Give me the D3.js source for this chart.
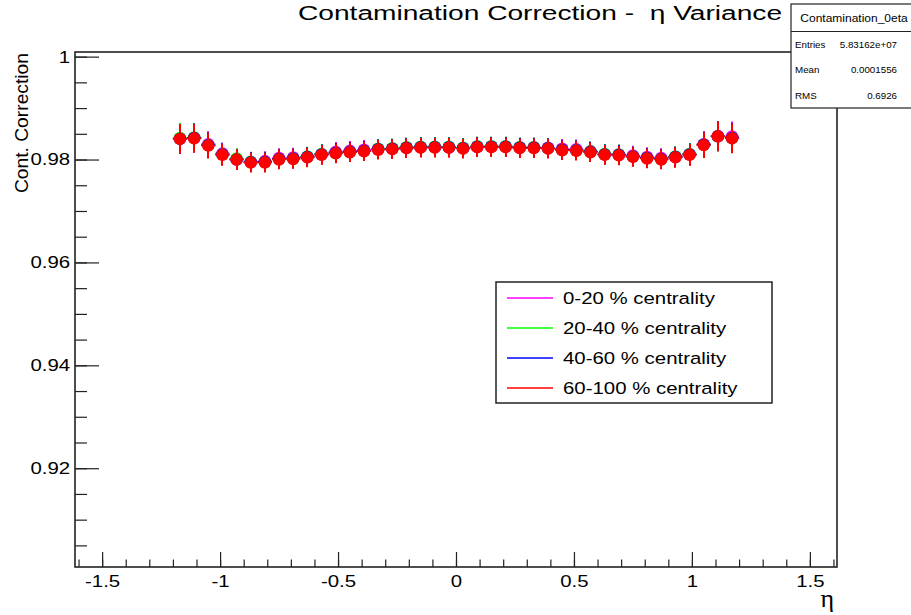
<!DOCTYPE html>
<html>
<head>
<meta charset="utf-8">
<script src="https://cdn.jsdelivr.net/npm/d3@7"></script>
<style>
  html, body { margin: 0; padding: 0; background: #fff; }
  svg { display: block; font-family: "Liberation Sans", Arial, sans-serif; }
</style>
</head>
<body>
<svg id="chart" width="911" height="615"></svg>
<script>
// Bin centres in eta (40 bins of width 0.06 between -1.2 and 1.2)
const etaBins = [-1.17,-1.11,-1.05,-0.99,-0.93,-0.87,-0.81,-0.75,-0.69,-0.63,
                 -0.57,-0.51,-0.45,-0.39,-0.33,-0.27,-0.21,-0.15,-0.09,-0.03,
                  0.03, 0.09, 0.15, 0.21, 0.27, 0.33, 0.39, 0.45, 0.51, 0.57,
                  0.63, 0.69, 0.75, 0.81, 0.87, 0.93, 0.99, 1.05, 1.11, 1.17];
const binHalfWidth = 0.03;

// Contamination correction per centrality class
const cent0_20 = [0.9841,0.9842,0.9830,0.9812,0.9801,0.9795,0.9797,0.9803,0.9804,0.9805,
                  0.9810,0.9815,0.9817,0.9819,0.9820,0.9821,0.9823,0.9824,0.9824,0.9823,
                  0.9822,0.9824,0.9825,0.9825,0.9824,0.9824,0.9823,0.9821,0.9820,0.9816,
                  0.9810,0.9810,0.9808,0.9805,0.9803,0.9805,0.9810,0.9830,0.9846,0.9845];
const cent20_40 = [0.9842,0.9843,0.9828,0.9810,0.9802,0.9796,0.9795,0.9801,0.9802,0.9806,
                   0.9811,0.9813,0.9815,0.9817,0.9821,0.9822,0.9824,0.9825,0.9825,0.9825,
                   0.9823,0.9826,0.9826,0.9826,0.9824,0.9824,0.9822,0.9819,0.9818,0.9816,
                   0.9811,0.9810,0.9806,0.9803,0.9801,0.9806,0.9811,0.9829,0.9845,0.9842];
const cent40_60 = [0.9840,0.9842,0.9828,0.9810,0.9800,0.9795,0.9795,0.9801,0.9802,0.9805,
                   0.9810,0.9813,0.9815,0.9817,0.9820,0.9821,0.9823,0.9824,0.9824,0.9824,
                   0.9822,0.9825,0.9825,0.9825,0.9823,0.9823,0.9822,0.9819,0.9818,0.9815,
                   0.9810,0.9809,0.9806,0.9803,0.9801,0.9805,0.9810,0.9829,0.9845,0.9842];
const cent60_100 = [0.9840,0.9841,0.9827,0.9809,0.9800,0.9794,0.9794,0.9800,0.9801,0.9804,
                    0.9809,0.9812,0.9814,0.9816,0.9819,0.9820,0.9822,0.9823,0.9823,0.9823,
                    0.9821,0.9824,0.9824,0.9824,0.9822,0.9822,0.9821,0.9818,0.9817,0.9814,
                    0.9809,0.9808,0.9805,0.9802,0.9800,0.9804,0.9809,0.9828,0.9845,0.9841];
// Statistical uncertainty per bin
const errors = [0.0029,0.0028,0.0025,0.0021,0.0020,0.0019,0.0019,0.0019,0.0019,0.0019,
                0.0019,0.0019,0.0019,0.0019,0.0019,0.0019,0.0019,0.0019,0.0019,0.0019,
                0.0019,0.0019,0.0019,0.0019,0.0019,0.0019,0.0019,0.0019,0.0019,0.0019,
                0.0019,0.0019,0.0019,0.0019,0.0019,0.0020,0.0021,0.0025,0.0029,0.0029];

const seriesLabels = ["0-20 % centrality","20-40 % centrality","40-60 % centrality","60-100 % centrality"];
const seriesColors = ["#ff00ff","#00ff00","#0000ff","#ff0000"];
const seriesValues = [cent0_20, cent20_40, cent40_60, cent60_100];

const xTickValues = [-1.5,-1,-0.5,0,0.5,1,1.5];
const xTickLabels = ["-1.5","-1","-0.5","0","0.5","1","1.5"];
const yTickValues = [0.92,0.94,0.96,0.98,1.0];
const yTickLabels = ["0.92","0.94","0.96","0.98","1"];

const statsTitle = "Contamination_0eta";
const statsNames = ["Entries","Mean","RMS"];
const statsValues = ["5.83162e+07","0.0001556","0.6926"];

const chartTitle = "Contamination Correction -\u00a0 \u03b7 Variance";
const yTitle = "Cont. Correction";
const xTitle = "\u03b7";

// ---- layout ----
const svg = d3.select("#chart");
const frame = {left: 75, right: 837, top: 52, bottom: 567};
const ink = "#222";
const x = d3.scaleLinear().domain([-1.615, 1.615]).range([frame.left, frame.right]);
const y = d3.scaleLinear().domain([0.9008, 1.0009]).range([frame.bottom, frame.top]);

svg.append("rect").attr("width", 911).attr("height", 615).attr("fill", "#fff");

// Text helper: glyphs are drawn slightly wide, like the ROOT canvas output
function label(parent, px, py, str, opts) {
  const o = Object.assign({size: 17, anchor: "start", sx: 1.2, rotate: 0, dy: null, family: null}, opts || {});
  const t = parent.append("text")
    .attr("transform", `translate(${px},${py}) rotate(${o.rotate}) scale(${o.sx},1)`)
    .attr("font-size", o.size)
    .attr("text-anchor", o.anchor)
    .attr("fill", "#000")
    .text(str);
  if (o.dy !== null) t.attr("dy", o.dy);
  if (o.family) t.attr("font-family", o.family);
  return t;
}

// ---- axes ----
const xMinor = d3.range(-16, 17).map(d => d / 10);
const yMinor = d3.range(181, 201).map(d => d * 0.005);

const gx = svg.append("g").attr("transform", `translate(0,${frame.bottom})`);
gx.call(d3.axisBottom(x).tickValues(xMinor).tickFormat("").tickSize(-7.5).tickSizeOuter(0));
gx.append("g").call(d3.axisBottom(x).tickValues(xTickValues)
    .tickFormat((d, i) => xTickLabels[i]).tickSize(-15).tickSizeOuter(0).tickPadding(8));
gx.selectAll(".domain").remove();

const gy = svg.append("g").attr("transform", `translate(${frame.left},0)`);
gy.call(d3.axisLeft(y).tickValues(yMinor).tickFormat("").tickSize(-12).tickSizeOuter(0));
gy.append("g").call(d3.axisLeft(y).tickValues(yTickValues)
    .tickFormat((d, i) => yTickLabels[i]).tickSize(-24).tickSizeOuter(0).tickPadding(4));
gy.selectAll(".domain").remove();

svg.selectAll(".tick line").attr("stroke", ink).attr("stroke-width", 1.2);
svg.selectAll(".tick text")
  .attr("font-size", 17)
  .attr("font-family", "Liberation Sans, Arial, sans-serif")
  .attr("fill", "#000")
  .attr("transform", "scale(1.2,1)");

// frame
svg.append("rect")
  .attr("x", frame.left).attr("y", frame.top)
  .attr("width", frame.right - frame.left).attr("height", frame.bottom - frame.top)
  .attr("fill", "none").attr("stroke", ink).attr("stroke-width", 1.6);

// ---- data: error bars and full-circle markers, series drawn in order ----
const plot = svg.append("g");
seriesValues.forEach((vals, s) => {
  const col = seriesColors[s];
  const g = plot.append("g");
  etaBins.forEach((eta, i) => {
    g.append("line")
      .attr("x1", x(eta - binHalfWidth)).attr("x2", x(eta + binHalfWidth))
      .attr("y1", y(vals[i])).attr("y2", y(vals[i]))
      .attr("stroke", col).attr("stroke-width", 1.5);
    g.append("line")
      .attr("x1", Math.round(x(eta))).attr("x2", Math.round(x(eta)))
      .attr("y1", y(vals[i] - errors[i])).attr("y2", y(vals[i] + errors[i]))
      .attr("stroke", col).attr("stroke-width", 2);
  });
  g.selectAll("circle").data(etaBins).enter().append("circle")
    .attr("cx", d => x(d))
    .attr("cy", (d, i) => y(vals[i]))
    .attr("r", 6.2)
    .attr("fill", col);
});

// ---- legend ----
const leg = svg.append("g");
leg.append("rect").attr("x", 496).attr("y", 282).attr("width", 276).attr("height", 121)
  .attr("fill", "#fff").attr("stroke", ink).attr("stroke-width", 1.5);
seriesLabels.forEach((lab, i) => {
  const ry = 298 + i * 30;
  leg.append("line").attr("x1", 507).attr("x2", 553).attr("y1", ry).attr("y2", ry)
    .attr("stroke", seriesColors[i]).attr("stroke-width", 1.6);
  label(leg, 563, ry, lab, {size: 17, sx: 1.2, dy: "0.36em"});
});

// ---- statistics box ----
const st = svg.append("g");
st.append("rect").attr("x", 791).attr("y", 4).attr("width", 140).attr("height", 104)
  .attr("fill", "#fff").attr("stroke", ink).attr("stroke-width", 1.2);
st.append("line").attr("x1", 791).attr("x2", 911).attr("y1", 31.5).attr("y2", 31.5)
  .attr("stroke", ink).attr("stroke-width", 1.2);
label(st, 854, 18, statsTitle, {size: 10, sx: 1.2, anchor: "middle", dy: "0.36em"});
statsNames.forEach((nm, i) => {
  const ry = 44.5 + i * 25.5;
  label(st, 795, ry, nm, {size: 8.5, sx: 1.15, dy: "0.36em"});
  label(st, 897, ry, statsValues[i], {size: 8.5, sx: 1.15, anchor: "end", dy: "0.36em"});
});

// ---- titles ----
label(svg, 298, 19.5, chartTitle, {size: 21, sx: 1.34});
label(svg, 28, 53, yTitle, {size: 18, sx: 1.07, rotate: -90, anchor: "end"});
label(svg, 834, 607, xTitle, {size: 26, sx: 1.0, anchor: "end", family: "Liberation Serif, serif"});
</script>
</body>
</html>
